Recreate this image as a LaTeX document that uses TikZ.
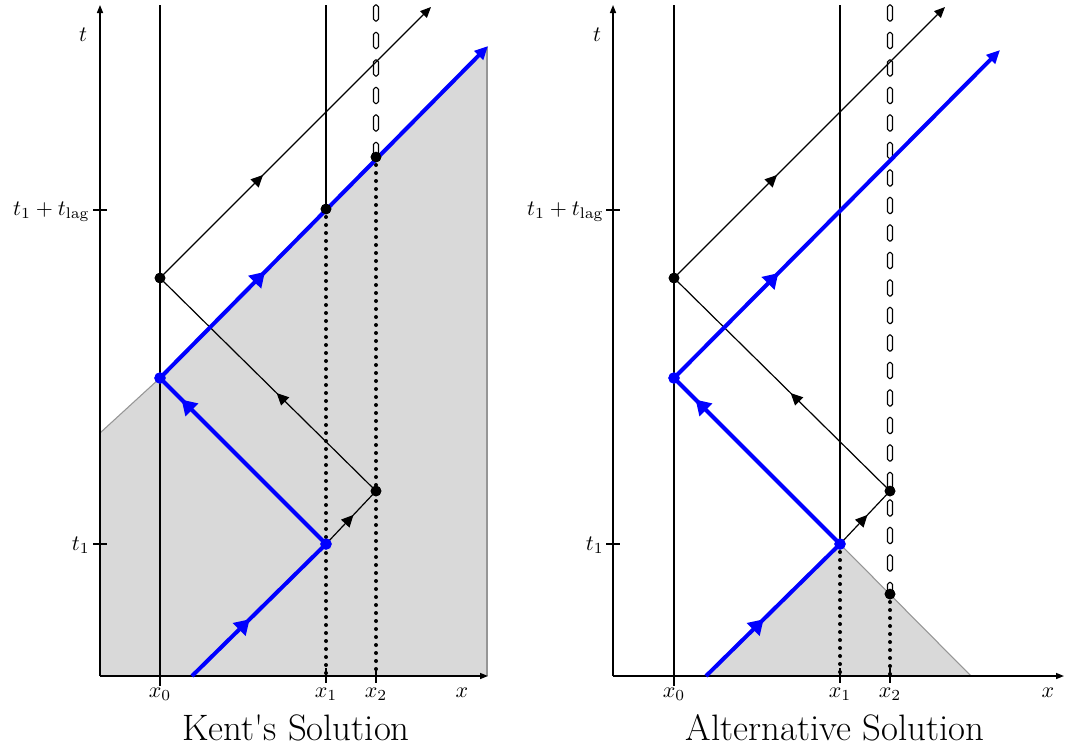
\documentclass[tikz,border=0pt]{standalone}
\usetikzlibrary{arrows.meta,decorations.markings}
\usepackage{textcomp}
\definecolor{shadegray}{RGB}{217,217,217}
\definecolor{shadeline}{RGB}{150,150,150}
\newcommand{\axlabel}[1]{\scalebox{1.65}{$#1$}}
\begin{document}
\begin{tikzpicture}[x=0.75pt,y=-0.75pt,
  axis/.style={line width=1.1pt,-{Triangle[length=6pt,width=4.5pt]}},
  world/.style={line width=2pt},
  tick/.style={line width=2pt},
  ytick/.style={line width=1.5pt},
  dotline/.style={line width=3pt,line cap=round,dash pattern=on 0pt off 6pt},
  hollowdash/.style={line width=0.9pt,fill=white,rounded corners=1.4pt},
  ray/.style={line width=0.9pt},
  blueray/.style={line width=3pt,blue},
  bdot/.style={circle,fill=black,inner sep=0pt,minimum size=8pt},
  bluedot/.style={circle,fill=blue,inner sep=0pt,minimum size=8.5pt},
  midarrow/.style={postaction={decorate},decoration={markings,mark=at position #1 with {\arrow{Triangle[length=9pt,width=8.5pt]}}}},
  bluemid/.style={postaction={decorate},decoration={markings,mark=at position #1 with {\arrow{Triangle[length=11pt,width=13pt]}}}},
  endarrow/.style={-{Triangle[length=8pt,width=7pt]}},
  blueend/.style={-{Triangle[length=10pt,width=9pt]}},
  lbl/.style={inner sep=0pt},
  title/.style={font=\fontsize{27.6}{32}\selectfont,inner sep=0pt,anchor=base}
]
\useasboundingbox (0,0) rectangle (1066,751);

%% ================= LEFT PANEL =================
\fill[shadegray] (100,676) -- (100,433) -- (160,378) -- (487,47) -- (487,676) -- cycle;
\draw[shadeline,line width=0.8pt] (100,433) -- (160,378);
\draw[shadeline,line width=0.8pt] (487,47) -- (487,676);

\coordinate (LO) at (100,676);
\coordinate (LT) at (100,5);
\coordinate (LX) at (488,676);
\draw[axis] (LO) -- (LT);
\draw[axis] (LO) -- (LX);
\draw[ytick] (93,210) -- (107,210);
\draw[ytick] (93,544) -- (107,544);

% world lines
\coordinate (Lx0top) at (160,5);
\coordinate (Lx0bot) at (160,686);
\draw[world] (Lx0top) -- (Lx0bot);

\node[bdot] (LA) at (326,209) {};
\node[bdot] (LC) at (376,157) {};
\node[bluedot] (LP) at (326,544) {};
\node[bluedot] (LB) at (160,378) {};
\node[bdot] (LD) at (376,491) {};
\node[bdot] (LE) at (160,278) {};

\coordinate (Lx1top) at (326,5);
\coordinate (Lx1bot) at (326,676);
\coordinate (Lx2bot) at (376,676);
\draw[world] (Lx1top) -- (LA.center);
\draw[dotline] (LA.center) -- (Lx1bot);
\draw[dotline] (LC.center) -- (Lx2bot);
\draw[tick] (326,668) -- (326,683);
\draw[tick] (376,668) -- (376,683);
\foreach \yy in {5,32.5,...,145} \draw[hollowdash] (373.5,\yy) rectangle (378.5,{\yy+16});

% black rays
\coordinate (LEend) at (431,7);
\draw[ray,midarrow=0.55] (LP.center) -- (LD.center);
\draw[ray,midarrow=0.46] (LD.center) -- (LE.center);
\draw[ray,midarrow=0.38,endarrow] (LE.center) -- (LEend);

% blue rays
\coordinate (LBstart) at (192,676);
\coordinate (LBend) at (488,46);
\draw[blueray,bluemid=0.43] (LBstart) -- (LP.center);
\draw[blueray,bluemid=0.87] (LP.center) -- (LB.center);
\draw[blueray,bluemid=0.32,blueend] (LB.center) -- (LBend);

\node[bdot] at (LA) {};
\node[bdot] at (LC) {};
\node[bdot] at (LD) {};
\node[bdot] at (LE) {};
\node[bluedot] at (LP) {};
\node[bluedot] at (LB) {};

% labels
\node[lbl] (Lt) at (83,35) {\axlabel{t}};
\node[lbl,anchor=east] (Ltl) at (90,212) {\axlabel{t_1+t_{\mathrm{lag}}}};
\node[lbl,anchor=east] (Lt1) at (90,545) {\axlabel{t_1}};
\node[lbl,anchor=base] (Lx0) at (160,697) {\axlabel{x_0}};
\node[lbl,anchor=base] (Lx1) at (326,697) {\axlabel{x_1}};
\node[lbl,anchor=base] (Lx2) at (376,697) {\axlabel{x_2}};
\node[lbl,anchor=base] (Lx) at (462,697) {\axlabel{x}};
\node[title] (Ltitle) at (296,740) {Kent\textquotesingle s Solution};

%% ================= RIGHT PANEL =================
\fill[shadegray] (706,676) -- (840,544) -- (971,676) -- cycle;
\draw[shadeline,line width=0.8pt] (840,544) -- (971,676);

\coordinate (RO) at (613,676);
\coordinate (RT) at (613,5);
\coordinate (RX) at (1064,676);
\draw[axis] (RO) -- (RT);
\draw[axis] (RO) -- (RX);
\draw[ytick] (606,210) -- (620,210);
\draw[ytick] (606,544) -- (620,544);

\coordinate (Rx0top) at (674,5);
\coordinate (Rx0bot) at (674,686);
\draw[world] (Rx0top) -- (Rx0bot);

\node[bluedot] (RP) at (840,544) {};
\node[bluedot] (RB) at (674,378) {};
\node[bdot] (RD) at (890,491) {};
\node[bdot] (RE) at (674,278) {};
\node[bdot] (RF) at (890,594) {};

\coordinate (Rx1top) at (840,5);
\coordinate (Rx1bot) at (840,676);
\coordinate (Rx2bot) at (890,676);
\draw[world] (Rx1top) -- (RP.center);
\draw[dotline] (RP.center) -- (Rx1bot);
\draw[dotline] (RF.center) -- (Rx2bot);
\draw[tick] (840,668) -- (840,683);
\draw[tick] (890,668) -- (890,683);
\foreach \yy in {5,32.5,...,585} \draw[hollowdash] (887.5,\yy) rectangle (892.5,{\yy+16});

\coordinate (REend) at (945,7);
\draw[ray,midarrow=0.55] (RP.center) -- (RD.center);
\draw[ray,midarrow=0.46] (RD.center) -- (RE.center);
\draw[ray,midarrow=0.38,endarrow] (RE.center) -- (REend);

\coordinate (RBstart) at (706,676);
\coordinate (RBend) at (1000,50);
\draw[blueray,bluemid=0.43] (RBstart) -- (RP.center);
\draw[blueray,bluemid=0.87] (RP.center) -- (RB.center);
\draw[blueray,bluemid=0.32,blueend] (RB.center) -- (RBend);

\node[bdot] at (RD) {};
\node[bdot] at (RE) {};
\node[bdot] at (RF) {};
\node[bluedot] at (RP) {};
\node[bluedot] at (RB) {};

\node[lbl] (Rt) at (597,35) {\axlabel{t}};
\node[lbl,anchor=east] (Rtl) at (604,212) {\axlabel{t_1+t_{\mathrm{lag}}}};
\node[lbl,anchor=east] (Rt1) at (604,545) {\axlabel{t_1}};
\node[lbl,anchor=base] (Rx0) at (674,697) {\axlabel{x_0}};
\node[lbl,anchor=base] (Rx1) at (840,697) {\axlabel{x_1}};
\node[lbl,anchor=base] (Rx2) at (890,697) {\axlabel{x_2}};
\node[lbl,anchor=base] (Rx) at (1048,697) {\axlabel{x}};
\node[title] (Rtitle) at (835,740) {Alternative Solution};
\end{tikzpicture}
\end{document}
